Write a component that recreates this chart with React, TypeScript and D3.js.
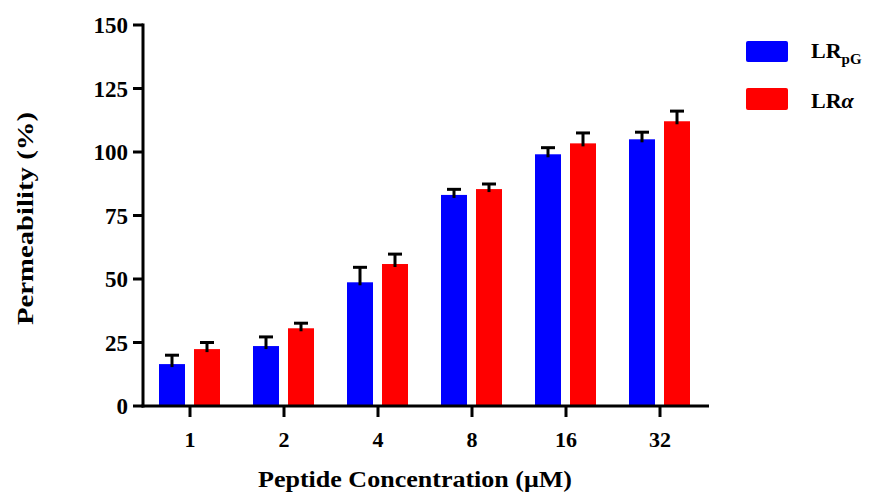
import React from "react";
import * as d3 from "d3";

const categories = ["1", "2", "4", "8", "16", "32"];
const seriesNames = ["LRpG", "LRα"];
const lrpgMeans = [16.5, 23.6, 48.7, 83.1, 99.1, 105.0];
const lrpgErrors = [3.5, 3.6, 5.9, 2.2, 2.6, 2.8];
const lraMeans = [22.4, 30.6, 55.9, 85.4, 103.4, 112.1];
const lraErrors = [2.6, 2.0, 3.9, 2.0, 4.1, 4.0];
const yTicks = [0, 25, 50, 75, 100, 125, 150];
const colors = ["#0000ff", "#ff0000"];

const W = 869;
const H = 495;
const FONT = "'Liberation Serif', 'DejaVu Serif', serif";

export default function App() {
  const x0 = d3.scaleBand<string>().domain(categories).range([143, 707]).padding(0);
  const y = d3.scaleLinear().domain([0, 150]).range([406, 25]);
  const offsets = [-31, 4];
  const barW = 26;
  const series = [
    { means: lrpgMeans, errs: lrpgErrors },
    { means: lraMeans, errs: lraErrors },
  ];
  const axisColor = "#000";
  return (
    <svg width={W} height={H} style={{ position: "absolute", left: 0, top: 0, background: "#fff" }}>
      <rect x={0} y={0} width={W} height={H} fill="#fff" />
      {/* bars */}
      {series.map((s, si) =>
        categories.map((c, i) => {
          const cx = (x0(c) as number) + x0.bandwidth() / 2;
          const bx = cx + offsets[si];
          const top = y(s.means[i]);
          const errTop = y(s.means[i] + s.errs[i]);
          const mid = bx + barW / 2;
          return (
            <g key={`${si}-${i}`}>
              <rect x={bx} y={top} width={barW} height={y(0) - top} fill={colors[si]} />
              <line x1={mid} x2={mid} y1={top + 3} y2={errTop} stroke="#000" strokeWidth={3} />
              <line x1={mid - 7} x2={mid + 7} y1={errTop} y2={errTop} stroke="#000" strokeWidth={3} />
            </g>
          );
        })
      )}
      {/* y axis */}
      <line x1={143} x2={143} y1={y(150) - 1.5} y2={y(0) + 1.5} stroke={axisColor} strokeWidth={3} />
      {yTicks.map((t) => (
        <g key={t}>
          <line x1={133} x2={143} y1={y(t)} y2={y(t)} stroke={axisColor} strokeWidth={3} />
          <text x={128} y={y(t)} dy="0.35em" textAnchor="end" fontFamily={FONT} fontWeight="bold" fontSize={23}>
            {t}
          </text>
        </g>
      ))}
      {/* x axis */}
      <line x1={141.5} x2={709} y1={y(0)} y2={y(0)} stroke={axisColor} strokeWidth={3} />
      {categories.map((c) => {
        const cx = (x0(c) as number) + x0.bandwidth() / 2;
        return (
          <g key={c}>
            <line x1={cx} x2={cx} y1={y(0)} y2={y(0) + 11} stroke={axisColor} strokeWidth={3} />
            <text x={cx} y={447} textAnchor="middle" fontFamily={FONT} fontWeight="bold" fontSize={22}>
              {c}
            </text>
          </g>
        );
      })}
      {/* axis titles */}
      <text
        x={258}
        y={487}
        fontFamily={FONT}
        fontWeight="bold"
        fontSize={24}
        textLength={314}
        lengthAdjust="spacingAndGlyphs"
      >
        Peptide Concentration (μM)
      </text>
      <text
        transform={`translate(33, 325) rotate(-90)`}
        fontFamily={FONT}
        fontWeight="bold"
        fontSize={23}
        textLength={213}
        lengthAdjust="spacingAndGlyphs"
      >
        Permeability (%)
      </text>
      {/* legend */}
      <rect x={746} y={41} width={42} height={21} rx={2} fill={colors[0]} />
      <text x={811} y={58} fontFamily={FONT} fontWeight="bold" fontSize={22}>
        LR<tspan fontSize={15} dy={6}>pG</tspan>
      </text>
      <rect x={746} y={88} width={42} height={22} rx={2} fill={colors[1]} />
      <text x={811} y={108} fontFamily={FONT} fontWeight="bold" fontSize={22}>
        LR<tspan fontStyle="italic">α</tspan>
      </text>
    </svg>
  );
}
